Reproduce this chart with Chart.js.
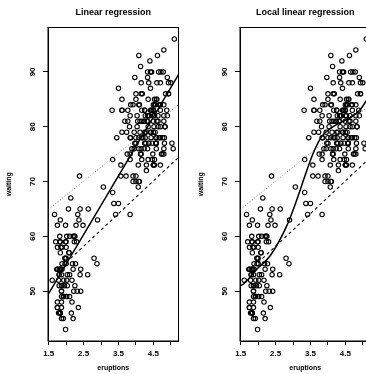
<!DOCTYPE html>
<html>
<head>
<meta charset="utf-8">
<script src="https://cdn.jsdelivr.net/npm/chart.js@4/dist/chart.umd.min.js"></script>
<style>
html, body { margin: 0; padding: 0; background: #fff; overflow: hidden; }
#wrap { position: relative; width: 366px; height: 374px; overflow: hidden; }
.panel { position: absolute; top: 0; width: 192px; height: 374px; }
</style>
</head>
<body>
<div id="wrap">
  <div class="panel" style="left:0"><canvas id="linear" width="192" height="374"></canvas></div>
  <div class="panel" style="left:192px"><canvas id="local" width="192" height="374"></canvas></div>
</div>
<script>
// old faithful: eruption length (min) and waiting time (min)
var eruptions = [
    3.600, 1.800, 3.333, 2.283, 4.533, 2.883, 4.700, 3.600, 1.950, 4.350,
    1.833, 3.917, 4.200, 1.750, 4.700, 2.167, 1.750, 4.800, 1.600, 4.250,
    1.800, 1.750, 3.450, 3.067, 4.533, 3.600, 1.967, 4.083, 3.850, 4.433,
    4.300, 4.467, 3.367, 4.033, 3.833, 2.017, 1.867, 4.833, 1.833, 4.783,
    4.350, 1.883, 4.567, 1.750, 4.533, 3.317, 3.833, 2.100, 4.633, 2.000,
    4.800, 4.716, 1.833, 4.833, 1.733, 4.883, 3.717, 1.667, 4.567, 4.317,
    2.233, 4.500, 1.750, 4.800, 1.817, 4.400, 4.167, 4.700, 2.067, 4.700,
    4.033, 1.967, 4.500, 4.000, 1.983, 5.067, 2.017, 4.567, 3.883, 3.600,
    4.133, 4.333, 4.100, 2.633, 4.067, 4.933, 3.950, 4.517, 2.167, 4.000,
    2.200, 4.333, 1.867, 4.817, 1.833, 4.300, 4.667, 3.750, 1.867, 4.900,
    2.483, 4.367, 2.100, 4.500, 4.050, 1.867, 4.700, 1.783, 4.850, 3.683,
    4.733, 2.300, 4.900, 4.417, 1.700, 4.633, 2.317, 4.600, 1.817, 4.417,
    2.617, 4.067, 4.250, 1.967, 4.600, 3.767, 1.917, 4.500, 2.267, 4.650,
    1.867, 4.167, 2.800, 4.333, 1.833, 4.383, 1.883, 4.933, 2.033, 3.733,
    4.233, 2.233, 4.533, 4.817, 4.333, 1.983, 4.633, 2.017, 5.100, 1.800,
    5.033, 4.000, 2.400, 4.600, 3.567, 4.000, 4.500, 4.083, 1.800, 3.967,
    2.200, 4.150, 2.000, 3.833, 3.500, 4.583, 2.367, 5.000, 1.933, 4.617,
    1.917, 2.083, 4.583, 3.333, 4.167, 4.333, 4.500, 2.417, 4.000, 4.167,
    1.883, 4.583, 4.250, 3.767, 2.033, 4.433, 4.083, 1.833, 4.417, 2.183,
    4.800, 1.833, 4.800, 4.100, 3.966, 4.233, 3.500, 4.366, 2.250, 4.667,
    2.100, 4.350, 4.133, 1.867, 4.600, 1.783, 4.367, 3.850, 1.933, 4.500,
    2.383, 4.700, 1.867, 3.833, 3.417, 4.233, 2.400, 4.800, 2.000, 4.150,
    1.867, 4.267, 1.750, 4.483, 4.000, 4.117, 4.083, 4.267, 3.917, 4.550,
    4.083, 2.417, 4.183, 2.217, 4.450, 1.883, 1.850, 4.283, 3.950, 2.333,
    4.150, 2.350, 4.933, 2.900, 4.583, 3.833, 2.083, 4.367, 2.133, 4.350,
    2.200, 4.450, 3.567, 4.500, 4.150, 3.817, 3.917, 4.450, 2.000, 4.283,
    4.767, 4.533, 1.850, 4.250, 1.983, 2.250, 4.750, 4.117, 2.150, 4.417,
    1.817, 4.467
];
var waiting = [
    79, 54, 74, 62, 85, 55, 88, 85, 51, 85,
    54, 84, 78, 47, 83, 52, 62, 84, 52, 79,
    51, 47, 78, 69, 74, 83, 55, 76, 78, 79,
    73, 77, 66, 80, 74, 52, 48, 80, 59, 90,
    80, 58, 84, 58, 73, 83, 64, 53, 82, 59,
    75, 90, 54, 80, 54, 83, 71, 64, 77, 81,
    59, 84, 48, 82, 60, 92, 78, 78, 65, 73,
    82, 56, 79, 71, 62, 76, 60, 78, 76, 83,
    75, 82, 70, 65, 73, 88, 76, 80, 48, 86,
    60, 90, 50, 78, 63, 72, 84, 75, 51, 82,
    62, 88, 49, 83, 81, 47, 84, 52, 86, 81,
    75, 59, 89, 79, 59, 81, 50, 85, 59, 87,
    53, 69, 77, 56, 88, 81, 45, 82, 55, 90,
    45, 83, 56, 89, 46, 82, 51, 86, 53, 79,
    81, 60, 82, 77, 76, 59, 80, 49, 96, 53,
    77, 77, 65, 81, 71, 70, 81, 93, 53, 89,
    45, 86, 58, 78, 66, 76, 63, 88, 52, 93,
    49, 57, 77, 68, 81, 81, 73, 50, 85, 74,
    55, 77, 83, 83, 51, 78, 84, 46, 83, 55,
    81, 57, 76, 84, 77, 81, 87, 77, 51, 78,
    60, 82, 91, 53, 78, 46, 77, 84, 49, 83,
    71, 80, 49, 75, 64, 76, 53, 94, 55, 76,
    50, 82, 54, 75, 78, 79, 78, 78, 70, 79,
    70, 54, 86, 50, 90, 54, 54, 77, 79, 64,
    75, 47, 86, 63, 85, 82, 57, 82, 67, 74,
    54, 83, 73, 73, 88, 80, 71, 83, 56, 79,
    78, 84, 58, 83, 43, 60, 75, 81, 46, 90,
    46, 74
];

var xTicks = [1.5, 2, 2.5, 3, 3.5, 4, 4.5, 5];
var xTickLabels = ["1.5", "", "2.5", "", "3.5", "", "4.5", ""];
var yTicks = [50, 60, 70, 80, 90];

// least squares line (left panel)
var fitX = [1.48, 5.22];
var fitY = [49.35, 89.48];
// upper dotted and lower dashed lines (both panels)
var upperX = [1.49, 5.22];
var upperY = [64.9, 84.0];
var lowerX = [2.0, 5.22];
var lowerY = [55.2, 74.4];
// local linear fit (right panel)
var localX = [1.48, 1.58, 1.96, 2.34, 2.82, 3.11, 3.34, 3.58, 3.82, 4.15, 4.53, 4.91, 5.22];
var localY = [51.0, 51.3, 54.0, 56.4, 61.9, 66.7, 71.0, 75.2, 78.2, 80.0, 81.3, 83.0, 86.0];


function to_points(xs, ys) {
    var res = [];
    for (var i = 0; i < xs.length; i++) {
        res.push({x: xs[i], y: ys[i]});
    }
    return res;
}

var frame_plugin = {
    id: 'frame',
    afterDraw: function (chart) {
        var ctx = chart.ctx;
        var a = chart.chartArea;
        var y = chart.scales.y;
        ctx.save();
        ctx.strokeStyle = '#000';
        ctx.lineWidth = 1;
        ctx.strokeRect(a.left, a.top, a.right - a.left, a.bottom - a.top);
        // y tick labels, R style (parallel to the axis)
        ctx.font = 'bold 8px "Liberation Sans"';
        ctx.fillStyle = '#000';
        ctx.textAlign = 'center';
        ctx.textBaseline = 'middle';
        yTicks.forEach(function (v) {
            ctx.save();
            ctx.translate(a.left - 15, y.getPixelForValue(v));
            ctx.rotate(-Math.PI / 2);
            ctx.fillText(String(v), 0, 0);
            ctx.restore();
        });
        ctx.restore();
    }
};

function build_panel(id, title, curveX, curveY, smooth) {

    var ctx = document.getElementById(id);

    var data = {
        datasets: [
            {
                type: 'scatter',
                label: 'obs',
                data: to_points(eruptions, waiting),
                pointStyle: 'circle',
                pointRadius: 2.2,
                pointBorderWidth: 1.1,
                pointBorderColor: '#000',
                pointBackgroundColor: 'rgba(0,0,0,0)',
                order: 3
            },
            {
                type: 'line',
                label: 'fit',
                data: to_points(curveX, curveY),
                borderColor: '#000',
                borderWidth: 1.5,
                pointRadius: 0,
                cubicInterpolationMode: smooth ? 'monotone' : 'default',
                tension: 0,
                order: 1
            },
            {
                type: 'line',
                label: 'upper',
                data: to_points(upperX, upperY),
                borderColor: '#555',
                borderWidth: 0.8,
                borderDash: [1, 2],
                pointRadius: 0,
                order: 2
            },
            {
                type: 'line',
                label: 'lower',
                data: to_points(lowerX, lowerY),
                borderColor: '#000',
                borderWidth: 1.1,
                borderDash: [3, 3],
                pointRadius: 0,
                order: 2
            }
        ]
    };

    var option = {
        responsive: false,
        animation: false,
        layout: {padding: {left: 0, top: 0, right: 13.5, bottom: 0}},
        plugins: {
            legend: {display: false},
            tooltip: {enabled: false},
            title: {
                display: true,
                text: title,
                fullSize: false,
                color: '#000',
                font: {family: 'Liberation Sans', size: 9, weight: 'bold'},
                padding: {top: 7, bottom: 9.7}
            }
        },
        scales: {
            x: {
                type: 'linear',
                min: 1.48,
                max: 5.22,
                afterFit: function (s) { s.height = 33; },
                afterBuildTicks: function (s) {
                    s.ticks = xTicks.map(function (v) { return {value: v}; });
                },
                grid: {drawOnChartArea: false, drawTicks: true, tickLength: 4, color: '#000'},
                border: {display: true, color: '#000'},
                ticks: {
                    autoSkip: false,
                    maxRotation: 0,
                    padding: 4,
                    color: '#000',
                    font: {family: 'Liberation Sans', size: 8, weight: 'bold'},
                    callback: function (v, i) { return xTickLabels[i]; }
                },
                title: {
                    display: true,
                    text: 'eruptions',
                    color: '#000',
                    font: {family: 'Liberation Sans', size: 7, weight: 'bold'},
                    padding: {top: 0, bottom: 1.5}
                }
            },
            y: {
                type: 'linear',
                min: 40.9,
                max: 98.1,
                afterFit: function (s) { s.width = 48; },
                afterBuildTicks: function (s) {
                    s.ticks = yTicks.map(function (v) { return {value: v}; });
                },
                grid: {drawOnChartArea: false, drawTicks: true, tickLength: 5, color: '#000'},
                border: {display: true, color: '#000'},
                ticks: {display: false},
                title: {
                    display: true,
                    text: 'waiting',
                    color: '#000',
                    font: {family: 'Liberation Sans', size: 7, weight: 'bold'},
                    padding: {top: 5, bottom: 0}
                }
            }
        }
    };

    return new Chart(ctx, {
        type: 'scatter',
        data: data,
        options: option,
        plugins: [frame_plugin]
    });
}

build_panel('linear', 'Linear regression', fitX, fitY, false);
build_panel('local', 'Local linear regression', localX, localY, true);
</script>
</body>
</html>
